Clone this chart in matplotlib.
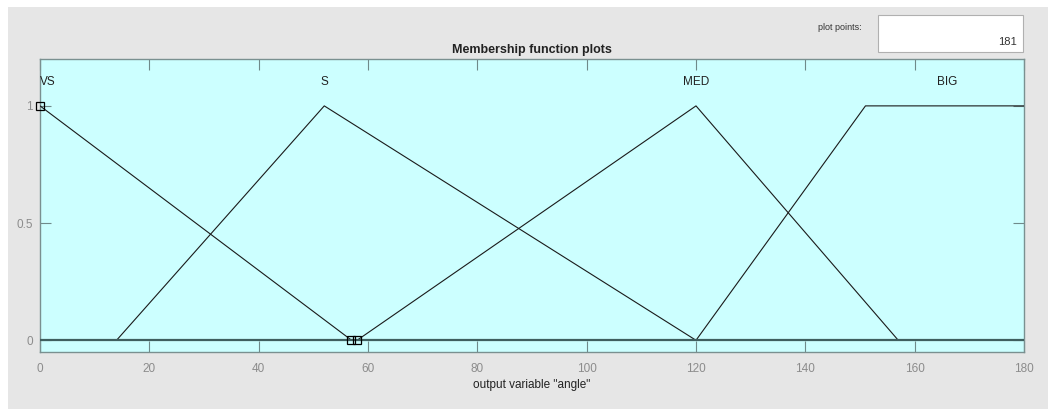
import numpy as np
import matplotlib
matplotlib.use("Agg")
import matplotlib.pyplot as plt
from matplotlib.patches import Rectangle
from matplotlib import font_manager

# ---- data ----
mf_names = ["VS", "S", "MED", "BIG"]
mf_types = ["trimf", "trimf", "trimf", "trapmf"]
mf_params = [[-57, 0, 57], [14, 52, 120], [58, 120, 157], [120, 151, 181, 212]]
label_x = [1.5, 52, 120, 166]
x_range = [0, 180]
x_ticks = [0, 20, 40, 60, 80, 100, 120, 140, 160, 180]
y_ticks = [0, 0.5, 1]
y_tick_labels = ["0", "0.5", "1"]
plot_points = 181
selected_vertices_x = [0, 56.8, 58.0]
selected_vertices_y = [1, 0, 0]

available = {f.name for f in font_manager.fontManager.ttflist}
narrow = "Liberation Sans Narrow" if "Liberation Sans Narrow" in available else "Liberation Sans"
plt.rcParams['font.family'] = ['Liberation Sans', 'DejaVu Sans']

W, H = 1048, 409
fig = plt.figure(figsize=(W / 100, H / 100), dpi=100)
fig.patch.set_facecolor('#e6e6e6')
# thin white strips at top and left
fig.patches.append(Rectangle((0, 1 - 7 / H), 1, 7 / H, transform=fig.transFigure,
                             facecolor='white', edgecolor='none', zorder=0))
fig.patches.append(Rectangle((0, 0), 8 / W, 1, transform=fig.transFigure,
                             facecolor='white', edgecolor='none', zorder=0))

ax = fig.add_axes([40 / W, (H - 352) / H, (1024 - 40) / W, (352 - 59) / H])
ax.set_facecolor('#ccffff')


def mf_vertices(kind, p):
    if kind == "trimf":
        xs = [p[0], p[1], p[2]]
        ys = [0, 1, 0]
    else:
        xs = [p[0], p[1], p[2], p[3]]
        ys = [0, 1, 1, 0]
    xs = [x_range[0] - 1000] + xs + [x_range[1] + 1000]
    ys = [0] + ys + [0]
    return np.array(xs, float), np.array(ys, float)


xg = np.linspace(x_range[0], x_range[1], plot_points)
for kind, p in zip(mf_types, mf_params):
    vx, vy = mf_vertices(kind, p)
    yg = np.interp(xg, vx, vy)
    ax.plot(xg, yg, color='#1a1a1a', lw=0.8, zorder=3)
ax.axhline(0, color='#3f5f5f', lw=1.6, zorder=3.5)

for name, lx in zip(mf_names, label_x):
    ax.text(lx, 1.1, name, ha='center', va='center', fontsize=8.5,
            color='#222222', clip_on=True)

ax.plot(selected_vertices_x, selected_vertices_y, linestyle='none', marker='s',
        markersize=6, markerfacecolor='none', markeredgecolor='black',
        markeredgewidth=0.9, zorder=4, clip_on=False)

ax.set_xlim(x_range)
ax.set_ylim(-0.05, 1.2)
ax.set_xticks(x_ticks)
ax.set_xticklabels([str(t) for t in x_ticks])
ax.set_yticks(y_ticks)
ax.set_yticklabels(y_tick_labels)
ax.tick_params(direction='in', length=8, width=0.8, color='#6f8a8a',
               labelcolor='#8c8c8c', labelsize=8.5, top=True, right=True)
ax.tick_params(axis='x', pad=8)
ax.tick_params(axis='y', pad=5)
for s in ax.spines.values():
    s.set_color('#7a9090')
    s.set_linewidth(1.0)

ax.set_title("Membership function plots", fontsize=9, fontweight='bold',
             family=[narrow, 'DejaVu Sans'], color='#222222', pad=4)
ax.set_xlabel('output variable "angle"', fontsize=8.5, color='#222222', labelpad=3)

# plot points box
fig.patches.append(Rectangle((878 / W, 1 - 52 / H), (1023 - 878) / W, (52 - 15) / H,
                             transform=fig.transFigure, facecolor='white',
                             edgecolor='#b0b0b0', lw=0.8, zorder=1))
fig.text(1017 / W, 1 - 42 / H, str(plot_points), ha='right', va='center',
         fontsize=8, color='#333333')
fig.text(862 / W, 1 - 28 / H, "plot points:", ha='right', va='center',
         fontsize=6.5, color='#333333')

fig.savefig("out.png", dpi=100, facecolor=fig.get_facecolor())
